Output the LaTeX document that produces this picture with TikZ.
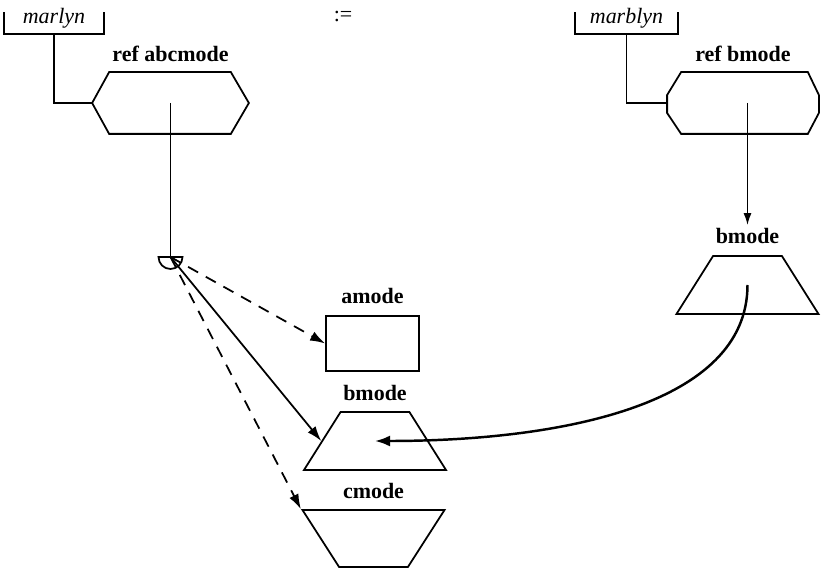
\documentclass[tikz,border=0pt]{standalone}
\usepackage{fontspec}
\setmainfont{Liberation Serif}
\usepackage{tikz}
\usetikzlibrary{arrows.meta,positioning,shapes.geometric}
\tikzset{
  namebox/.style={inner sep=0pt, text height=0.22cm, text depth=0.18cm, minimum width=1.96cm, font=\fontsize{12.5}{14}\selectfont\itshape},
  refbox/.style={inner sep=0pt, minimum width=3.1cm, minimum height=1.2cm},
  modebox/.style={draw, inner sep=0pt, minimum width=1.86cm, minimum height=1.1cm},
  modetrap/.style={draw, trapezium, trapezium angle=62, trapezium stretches=true, inner sep=1pt, minimum width=2.84cm, minimum height=1.16cm},
  modelabel/.style={inner sep=0pt, font=\fontsize{12.5}{14}\selectfont\bfseries},
  modearrow/.style={-{Latex[length=3mm,width=2mm]}},
  modedash/.style={modearrow, dash pattern=on 6.5pt off 5pt},
  modecurve/.style={-{Latex[length=3mm,width=2.2mm]}, line width=1.4pt}
}

\begin{document}
\begin{tikzpicture}[line width=1pt]
\useasboundingbox (0,0) rectangle (16.44,11.42);
% left: marlyn
\node[namebox] (marlyn) at (1.08,10.96) {marlyn};
\draw (marlyn.north west) |- (marlyn.south east) -- (marlyn.north east);
\node[refbox] (refabc) at (3.41,9.36) {};
\draw (refabc.west) -- ([xshift=0.34cm]refabc.north west) -- ([xshift=-0.36cm]refabc.north east)
  -- (refabc.east) -- ([xshift=-0.36cm]refabc.south east) -- ([xshift=0.34cm]refabc.south west) -- cycle;
\node[modelabel, above=0.2cm of refabc] (refabclbl) {ref abcmode};
\draw (marlyn.south) |- (refabc.west);

\node[font=\fontsize{12.5}{14}\selectfont] (assign) at (6.86,11.08) {:=};

% right: marblyn
\node[namebox, minimum width=2.02cm] (marblyn) at (12.53,10.96) {marblyn};
\draw (marblyn.north west) |- (marblyn.south east) -- (marblyn.north east);
\node[refbox, minimum width=3.0cm] (refb) at (14.86,9.36) {};
\draw ([yshift=0.16cm]refb.west) -- ([xshift=0.28cm]refb.north west) -- ([xshift=-0.22cm]refb.north east)
  -- ([yshift=0.16cm]refb.east) -- ([yshift=-0.2cm]refb.east) -- ([xshift=-0.22cm]refb.south east)
  -- ([xshift=0.28cm]refb.south west) -- ([yshift=-0.2cm]refb.west) -- cycle;
\node[modelabel, above=0.2cm of refb] (refblbl) {ref bmode};
\draw (marblyn.south) |- (refb.west);

% modes
\node[modetrap] (bmodeR) at (14.95,5.72) {};
\node[modelabel, above=0.22cm of bmodeR] (bmodeRlbl) {bmode};
\draw[-{Latex[length=2.4mm,width=1.6mm]}] (bmodeR.center |- refb.center) -- ([yshift=1pt]bmodeRlbl.north -| bmodeR.center);

\node[modebox] (amode) at (7.45,4.55) {};
\node[modelabel, above=0.22cm of amode] (amodelbl) {amode};
\node[modetrap] (bmode) at (7.50,2.60) {};
\node[modelabel, above=0.2cm of bmode] (bmodelbl) {bmode};
\node[modetrap, shape border rotate=180, minimum height=1.14cm] (cmode) at (7.47,0.65) {};
\node[modelabel, above=0.2cm of cmode] (cmodelbl) {cmode};

% join
\path (refabc.center) ++(0,-3.08) coordinate (join);
\draw (refabc.center) -- (join);
\draw (join) ++(-0.24,0) arc[start angle=180, end angle=360, radius=0.24cm] -- cycle;
\draw[modedash] (join) -- (amode.west);
\draw[modearrow] (join) -- (bmode.left side);
\draw[modedash] (join) -- (cmode.bottom right corner);

\draw[modecurve] (bmodeR.center) .. controls +(0,-2.4) and +(3.7,0) .. (bmode.center);
\end{tikzpicture}
\end{document}
